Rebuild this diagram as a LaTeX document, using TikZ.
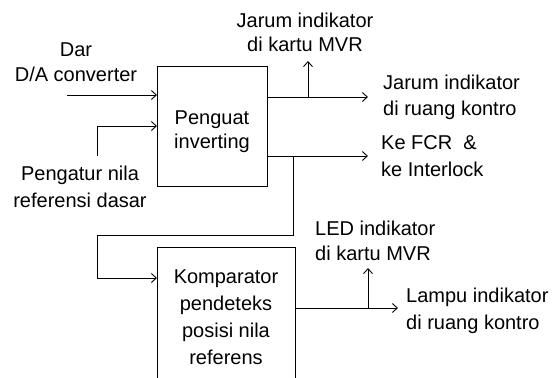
\documentclass[tikz,border=0pt]{standalone}
\usepackage{fontspec}
\setmainfont{Liberation Sans}
\usetikzlibrary{arrows.meta}
\begin{document}
\begin{tikzpicture}[x=1pt,y=-1pt,
  lbl/.style={inner sep=0pt, font=\fontsize{20}{25}\selectfont, align=center},
  lbll/.style={lbl, align=left, anchor=north west},
  blk/.style={draw, line width=1pt, inner sep=0pt},
  wire/.style={line width=0.9pt},
  arr/.style={wire, -{Straight Barb[length=5pt,width=9pt]}}]
\useasboundingbox (0,0) rectangle (558,378);
\clip (0,0) rectangle (558,378);
% blocks
\node[blk, minimum width=110pt, minimum height=120pt] (pa) at (212.5,126) {};
\node[lbl, anchor=north, font=\fontsize{20}{24}\selectfont] (pat) at (212,110.7) {Penguat\\inverting};
\node[blk, minimum width=138pt, minimum height=150pt] (kp) at (226.5,322) {};
\node[lbl, anchor=north, font=\fontsize{20}{27}\selectfont] (kpt) at (226,269.7) {Komparator\\pendeteks\\posisi nila\\referens};
% labels
\node[lbl, anchor=north, font=\fontsize{20}{24}\selectfont] (t1) at (305,12.7) {Jarum indikator\\di kartu MVR};
\node[lbl, anchor=north] (dar) at (76,42.7) {Dar\\D/A converter};
\node[lbll, font=\fontsize{20}{26}\selectfont] (r1) at (383,74.7) {Jarum indikator\\di ruang kontro};
\node[lbll, font=\fontsize{20}{27}\selectfont] (r2) at (381,135.7) {Ke FCR\ \ \&\\ke Interlock};
\node[lbl, anchor=north, font=\fontsize{20}{27}\selectfont] (pn) at (80,165.7) {Pengatur nila\\referensi dasar};
\node[lbll] (led) at (315,220.7) {LED indikator\\di kartu MVR};
\node[lbll, font=\fontsize{20}{27}\selectfont] (lmp) at (406,287.7) {Lampu indikator\\di ruang kontro};
% coordinates
\coordinate (d1) at (67,95);
\coordinate (p1) at (97,156);
\coordinate (o1) at (368,97);
\coordinate (b1) at (308,61);
\coordinate (o2) at (368,156);
\coordinate (j2) at (293,156);
\coordinate (lp) at (97,235);
\coordinate (k1) at (0,278);
\coordinate (o3) at (398,308);
\coordinate (b3) at (368,268);
% connectors
\draw[arr] (d1) -- (d1 -| pa.west);
\draw[arr] (p1) |- (pa.west);
\draw[arr] (o1 -| pa.east) -- (o1);
\draw[arr] (b1 |- o1) -- (b1);
\draw[arr] (o2 -| pa.east) -- (o2);
\draw[arr] (j2) |- (lp) |- (k1 -| kp.west);
\draw[arr] (o3 -| kp.east) -- (o3);
\draw[arr] (b3 |- o3) -- (b3);
\end{tikzpicture}
\end{document}
